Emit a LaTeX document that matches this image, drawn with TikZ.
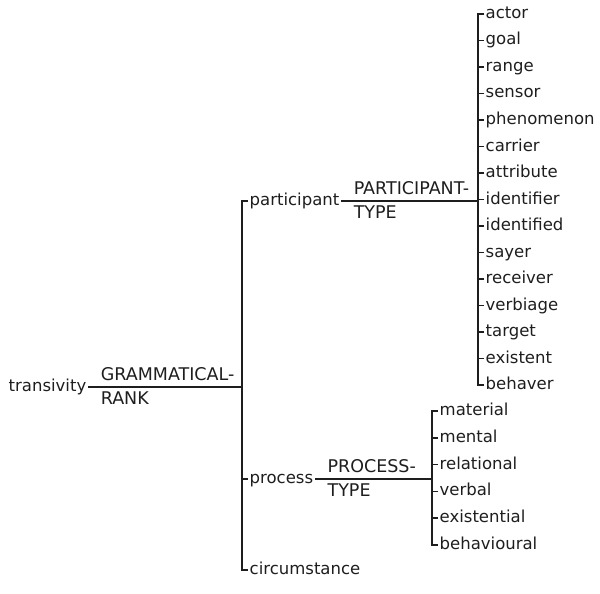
\documentclass[tikz,border=0pt]{standalone}
\usepackage{fontspec}
\setmainfont{DejaVu Sans}
\usepackage{tikz}
\usetikzlibrary{positioning}
\definecolor{NetGray}{RGB}{30,30,30}
\tikzset{
  term/.style={inner xsep=1.5pt,inner ysep=0pt,text height=13pt,
    text depth=4pt,text=NetGray},
  featup/.style={pos=0,anchor=base west,inner sep=0pt,xshift=12pt,
    yshift=7pt,text=NetGray,font=\fontsize{17.5}{20}\selectfont},
  featdown/.style={pos=0,anchor=base west,inner sep=0pt,xshift=12pt,
    yshift=-17pt,text=NetGray,font=\fontsize{17.5}{20}\selectfont},
  netline/.style={line width=1.6pt,draw=NetGray},
}

\begin{document}
\begin{tikzpicture}[x=1pt,y=-1pt,font=\fontsize{16.5}{20}\selectfont]
  \useasboundingbox (0,0) rectangle (600,594);
  % grammatical rank
  \node[term,anchor=east] (transivity) at (88,387) {transivity};
  \coordinate (rank) at (242,387);
  \draw[netline] (transivity) -- node[featup] (rankA) {GRAMMATICAL-}
    node[featdown] (rankB) {RANK} (rank);
  \node[term,anchor=west] (participant) at (248,201) {participant};
  \node[term,anchor=west] (process) at (248,479) {process};
  \node[term,anchor=west] (circumstance) at (248,570) {circumstance};
  \draw[netline] (participant.west) -- ++(-6,0) |- (circumstance.west);
  \draw[netline] (process.west) -- ++(-6,0);
  % participant type
  \coordinate (ptype) at (478,201);
  \draw[netline] (participant) -- node[featup] (ptypeA) {PARTICIPANT-}
    node[featdown] (ptypeB) {TYPE} (ptype);
  \foreach \name [count=\i from 0] in {actor,goal,range,sensor,phenomenon,
      carrier,attribute,identifier,identified,sayer,receiver,verbiage,
      target,existent,behaver}
    \node[term,anchor=west] (\name) at (484,14+26.5*\i) {\name};
  \draw[netline] (actor.west) -- ++(-6,0) |- (behaver.west);
  \foreach \name in {goal,range,sensor,phenomenon,carrier,attribute,
      identifier,identified,sayer,receiver,verbiage,target,existent}
    \draw[netline] (\name.west) -- ++(-6,0);
  % process type
  \coordinate (prtype) at (432,479);
  \draw[netline] (process) -- node[featup] (prtypeA) {PROCESS-}
    node[featdown] (prtypeB) {TYPE} (prtype);
  \foreach \name [count=\i from 0] in {material,mental,relational,verbal,
      existential,behavioural}
    \node[term,anchor=west] (\name) at (438,411+26.8*\i) {\name};
  \draw[netline] (material.west) -- ++(-6,0) |- (behavioural.west);
  \foreach \name in {mental,relational,verbal,existential}
    \draw[netline] (\name.west) -- ++(-6,0);
\end{tikzpicture}
\end{document}
